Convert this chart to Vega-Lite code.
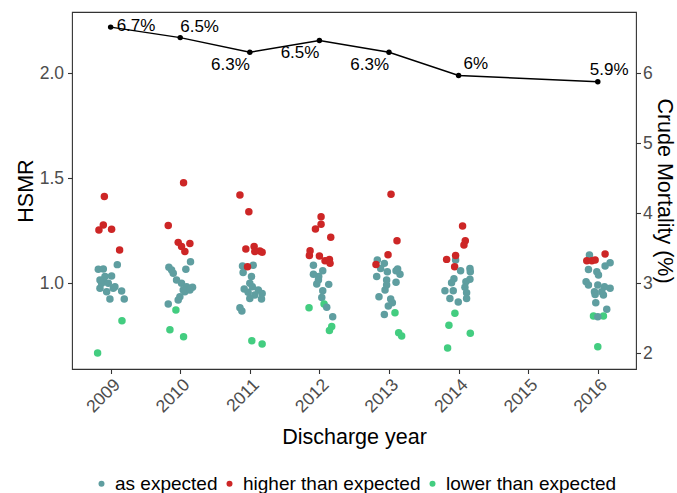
{
  "$schema": "https://vega.github.io/schema/vega-lite/v6.json",
  "width": 564,
  "height": 357,
  "autosize": {"type": "none"},
  "padding": {"left": 72, "top": 12, "right": 41, "bottom": 124},
  "background": "white",
  "config": {
    "font": "Liberation Sans",
    "view": {"stroke": "#333333", "strokeWidth": 1.1},
    "axis": {
      "grid": false,
      "domain": false,
      "tickColor": "#333333",
      "tickSize": 4.5,
      "tickWidth": 1.1,
      "labelColor": "#4D4D4D",
      "labelFontSize": 17.5,
      "labelFont": "Liberation Sans",
      "titleFont": "Liberation Sans",
      "titleFontSize": 21.5,
      "titleFontWeight": "normal",
      "titleColor": "#000000"
    }
  },
  "datasets": {
    "pts": [
      {"x": 2008.910, "hsmr": 1.413, "status": "higher than expected"},
      {"x": 2008.895, "hsmr": 1.278, "status": "higher than expected"},
      {"x": 2008.832, "hsmr": 1.254, "status": "higher than expected"},
      {"x": 2009.014, "hsmr": 1.257, "status": "higher than expected"},
      {"x": 2009.129, "hsmr": 1.159, "status": "higher than expected"},
      {"x": 2008.823, "hsmr": 1.067, "status": "as expected"},
      {"x": 2008.895, "hsmr": 1.068, "status": "as expected"},
      {"x": 2009.096, "hsmr": 1.089, "status": "as expected"},
      {"x": 2009.014, "hsmr": 1.035, "status": "as expected"},
      {"x": 2008.895, "hsmr": 1.016, "status": "as expected"},
      {"x": 2008.847, "hsmr": 0.976, "status": "as expected"},
      {"x": 2008.943, "hsmr": 0.960, "status": "as expected"},
      {"x": 2009.038, "hsmr": 0.976, "status": "as expected"},
      {"x": 2009.158, "hsmr": 0.963, "status": "as expected"},
      {"x": 2008.990, "hsmr": 0.925, "status": "as expected"},
      {"x": 2009.196, "hsmr": 0.925, "status": "as expected"},
      {"x": 2008.871, "hsmr": 1.000, "status": "as expected"},
      {"x": 2008.967, "hsmr": 1.000, "status": "as expected"},
      {"x": 2009.062, "hsmr": 0.984, "status": "as expected"},
      {"x": 2008.919, "hsmr": 1.032, "status": "as expected"},
      {"x": 2008.847, "hsmr": 1.016, "status": "as expected"},
      {"x": 2009.163, "hsmr": 0.822, "status": "lower than expected"},
      {"x": 2008.813, "hsmr": 0.668, "status": "lower than expected"},

      {"x": 2010.048, "hsmr": 1.479, "status": "higher than expected"},
      {"x": 2009.828, "hsmr": 1.275, "status": "higher than expected"},
      {"x": 2009.971, "hsmr": 1.195, "status": "higher than expected"},
      {"x": 2010.139, "hsmr": 1.190, "status": "higher than expected"},
      {"x": 2010.019, "hsmr": 1.175, "status": "higher than expected"},
      {"x": 2010.067, "hsmr": 1.151, "status": "higher than expected"},
      {"x": 2010.148, "hsmr": 1.103, "status": "as expected"},
      {"x": 2010.081, "hsmr": 1.067, "status": "as expected"},
      {"x": 2009.837, "hsmr": 1.076, "status": "as expected"},
      {"x": 2009.900, "hsmr": 1.048, "status": "as expected"},
      {"x": 2009.947, "hsmr": 1.016, "status": "as expected"},
      {"x": 2010.019, "hsmr": 1.000, "status": "as expected"},
      {"x": 2010.091, "hsmr": 0.984, "status": "as expected"},
      {"x": 2010.177, "hsmr": 0.981, "status": "as expected"},
      {"x": 2010.067, "hsmr": 0.960, "status": "as expected"},
      {"x": 2009.995, "hsmr": 0.936, "status": "as expected"},
      {"x": 2009.971, "hsmr": 0.921, "status": "as expected"},
      {"x": 2009.828, "hsmr": 0.902, "status": "as expected"},
      {"x": 2009.876, "hsmr": 1.063, "status": "as expected"},
      {"x": 2010.043, "hsmr": 0.968, "status": "as expected"},
      {"x": 2010.139, "hsmr": 0.968, "status": "as expected"},
      {"x": 2009.938, "hsmr": 0.873, "status": "lower than expected"},
      {"x": 2009.852, "hsmr": 0.779, "status": "lower than expected"},
      {"x": 2010.048, "hsmr": 0.746, "status": "lower than expected"},

      {"x": 2010.858, "hsmr": 1.421, "status": "higher than expected"},
      {"x": 2010.986, "hsmr": 1.341, "status": "higher than expected"},
      {"x": 2010.943, "hsmr": 1.163, "status": "higher than expected"},
      {"x": 2011.062, "hsmr": 1.175, "status": "higher than expected"},
      {"x": 2011.144, "hsmr": 1.154, "status": "higher than expected"},
      {"x": 2011.177, "hsmr": 1.148, "status": "higher than expected"},
      {"x": 2011.072, "hsmr": 1.151, "status": "higher than expected"},
      {"x": 2010.895, "hsmr": 1.082, "status": "as expected"},
      {"x": 2011.048, "hsmr": 1.086, "status": "as expected"},
      {"x": 2010.904, "hsmr": 1.051, "status": "as expected"},
      {"x": 2011.024, "hsmr": 1.032, "status": "as expected"},
      {"x": 2011.000, "hsmr": 1.000, "status": "as expected"},
      {"x": 2011.038, "hsmr": 0.984, "status": "as expected"},
      {"x": 2010.919, "hsmr": 0.973, "status": "as expected"},
      {"x": 2011.122, "hsmr": 0.968, "status": "as expected"},
      {"x": 2011.177, "hsmr": 0.952, "status": "as expected"},
      {"x": 2011.072, "hsmr": 0.944, "status": "as expected"},
      {"x": 2011.000, "hsmr": 0.928, "status": "as expected"},
      {"x": 2011.168, "hsmr": 0.925, "status": "as expected"},
      {"x": 2010.858, "hsmr": 0.884, "status": "as expected"},
      {"x": 2010.886, "hsmr": 0.868, "status": "as expected"},
      {"x": 2010.976, "hsmr": 0.957, "status": "as expected"},
      {"x": 2010.967, "hsmr": 1.079, "status": "higher than expected"},
      {"x": 2011.029, "hsmr": 0.727, "status": "lower than expected"},
      {"x": 2011.177, "hsmr": 0.711, "status": "lower than expected"},

      {"x": 2012.024, "hsmr": 1.317, "status": "higher than expected"},
      {"x": 2012.024, "hsmr": 1.281, "status": "higher than expected"},
      {"x": 2011.943, "hsmr": 1.259, "status": "higher than expected"},
      {"x": 2012.163, "hsmr": 1.219, "status": "higher than expected"},
      {"x": 2011.866, "hsmr": 1.155, "status": "higher than expected"},
      {"x": 2011.856, "hsmr": 1.133, "status": "higher than expected"},
      {"x": 2012.000, "hsmr": 1.130, "status": "higher than expected"},
      {"x": 2012.081, "hsmr": 1.108, "status": "higher than expected"},
      {"x": 2012.144, "hsmr": 1.114, "status": "higher than expected"},
      {"x": 2012.153, "hsmr": 1.095, "status": "higher than expected"},
      {"x": 2011.914, "hsmr": 1.086, "status": "as expected"},
      {"x": 2012.048, "hsmr": 1.060, "status": "as expected"},
      {"x": 2011.914, "hsmr": 1.043, "status": "as expected"},
      {"x": 2011.990, "hsmr": 1.032, "status": "as expected"},
      {"x": 2011.962, "hsmr": 0.997, "status": "as expected"},
      {"x": 2012.134, "hsmr": 0.995, "status": "as expected"},
      {"x": 2012.048, "hsmr": 0.965, "status": "as expected"},
      {"x": 2012.034, "hsmr": 0.933, "status": "as expected"},
      {"x": 2011.986, "hsmr": 1.016, "status": "as expected"},
      {"x": 2011.851, "hsmr": 0.884, "status": "lower than expected"},
      {"x": 2012.067, "hsmr": 0.902, "status": "lower than expected"},
      {"x": 2012.105, "hsmr": 0.886, "status": "as expected"},
      {"x": 2012.191, "hsmr": 0.841, "status": "as expected"},
      {"x": 2012.177, "hsmr": 0.794, "status": "lower than expected"},
      {"x": 2012.144, "hsmr": 0.775, "status": "lower than expected"},

      {"x": 2013.029, "hsmr": 1.424, "status": "higher than expected"},
      {"x": 2013.115, "hsmr": 1.203, "status": "higher than expected"},
      {"x": 2012.832, "hsmr": 1.111, "status": "as expected"},
      {"x": 2012.933, "hsmr": 1.095, "status": "as expected"},
      {"x": 2012.880, "hsmr": 1.071, "status": "as expected"},
      {"x": 2012.976, "hsmr": 1.055, "status": "as expected"},
      {"x": 2013.124, "hsmr": 1.068, "status": "as expected"},
      {"x": 2013.158, "hsmr": 1.043, "status": "as expected"},
      {"x": 2012.823, "hsmr": 1.032, "status": "as expected"},
      {"x": 2012.966, "hsmr": 1.016, "status": "as expected"},
      {"x": 2013.101, "hsmr": 1.005, "status": "as expected"},
      {"x": 2012.943, "hsmr": 0.968, "status": "as expected"},
      {"x": 2012.856, "hsmr": 0.936, "status": "as expected"},
      {"x": 2013.024, "hsmr": 0.925, "status": "as expected"},
      {"x": 2012.990, "hsmr": 0.892, "status": "as expected"},
      {"x": 2013.048, "hsmr": 0.908, "status": "as expected"},
      {"x": 2012.933, "hsmr": 0.852, "status": "as expected"},
      {"x": 2013.101, "hsmr": 1.060, "status": "as expected"},
      {"x": 2012.966, "hsmr": 0.992, "status": "as expected"},
      {"x": 2012.986, "hsmr": 1.136, "status": "higher than expected"},
      {"x": 2012.813, "hsmr": 1.090, "status": "higher than expected"},
      {"x": 2013.086, "hsmr": 0.860, "status": "lower than expected"},
      {"x": 2013.139, "hsmr": 0.765, "status": "lower than expected"},
      {"x": 2013.182, "hsmr": 0.749, "status": "lower than expected"},

      {"x": 2014.057, "hsmr": 1.273, "status": "higher than expected"},
      {"x": 2014.096, "hsmr": 1.203, "status": "higher than expected"},
      {"x": 2014.077, "hsmr": 1.182, "status": "higher than expected"},
      {"x": 2013.957, "hsmr": 1.111, "status": "as expected"},
      {"x": 2013.957, "hsmr": 1.132, "status": "higher than expected"},
      {"x": 2013.828, "hsmr": 1.114, "status": "higher than expected"},
      {"x": 2013.943, "hsmr": 1.079, "status": "higher than expected"},
      {"x": 2014.029, "hsmr": 1.060, "status": "as expected"},
      {"x": 2014.163, "hsmr": 1.071, "status": "as expected"},
      {"x": 2014.168, "hsmr": 1.055, "status": "as expected"},
      {"x": 2013.933, "hsmr": 1.022, "status": "as expected"},
      {"x": 2013.899, "hsmr": 1.003, "status": "as expected"},
      {"x": 2014.163, "hsmr": 1.019, "status": "as expected"},
      {"x": 2014.105, "hsmr": 1.008, "status": "as expected"},
      {"x": 2014.091, "hsmr": 0.981, "status": "as expected"},
      {"x": 2013.804, "hsmr": 0.965, "status": "as expected"},
      {"x": 2013.923, "hsmr": 0.965, "status": "as expected"},
      {"x": 2014.115, "hsmr": 0.955, "status": "as expected"},
      {"x": 2013.875, "hsmr": 0.928, "status": "as expected"},
      {"x": 2013.995, "hsmr": 0.911, "status": "as expected"},
      {"x": 2014.115, "hsmr": 0.928, "status": "as expected"},
      {"x": 2013.947, "hsmr": 0.857, "status": "lower than expected"},
      {"x": 2013.861, "hsmr": 0.800, "status": "lower than expected"},
      {"x": 2014.168, "hsmr": 0.762, "status": "lower than expected"},
      {"x": 2013.842, "hsmr": 0.692, "status": "lower than expected"},

      {"x": 2015.880, "hsmr": 1.135, "status": "as expected"},
      {"x": 2016.105, "hsmr": 1.140, "status": "higher than expected"},
      {"x": 2015.842, "hsmr": 1.108, "status": "higher than expected"},
      {"x": 2015.914, "hsmr": 1.108, "status": "higher than expected"},
      {"x": 2015.962, "hsmr": 1.111, "status": "higher than expected"},
      {"x": 2016.177, "hsmr": 1.098, "status": "as expected"},
      {"x": 2016.105, "hsmr": 1.082, "status": "as expected"},
      {"x": 2015.866, "hsmr": 1.066, "status": "as expected"},
      {"x": 2015.986, "hsmr": 1.055, "status": "as expected"},
      {"x": 2016.010, "hsmr": 1.040, "status": "as expected"},
      {"x": 2015.832, "hsmr": 1.008, "status": "as expected"},
      {"x": 2015.866, "hsmr": 0.992, "status": "as expected"},
      {"x": 2016.000, "hsmr": 0.992, "status": "as expected"},
      {"x": 2016.096, "hsmr": 0.984, "status": "as expected"},
      {"x": 2016.177, "hsmr": 0.976, "status": "as expected"},
      {"x": 2015.962, "hsmr": 0.947, "status": "as expected"},
      {"x": 2016.081, "hsmr": 0.944, "status": "as expected"},
      {"x": 2015.952, "hsmr": 0.960, "status": "as expected"},
      {"x": 2016.057, "hsmr": 0.960, "status": "as expected"},
      {"x": 2015.971, "hsmr": 0.908, "status": "as expected"},
      {"x": 2016.129, "hsmr": 0.876, "status": "as expected"},
      {"x": 2015.938, "hsmr": 0.844, "status": "lower than expected"},
      {"x": 2016.081, "hsmr": 0.844, "status": "lower than expected"},
      {"x": 2016.000, "hsmr": 0.841, "status": "as expected"},
      {"x": 2016.000, "hsmr": 0.698, "status": "lower than expected"}
    ],
    "crude": [
      {"year": 2009, "crude": 6.66, "label": "6.7%"},
      {"year": 2010, "crude": 6.51, "label": "6.5%"},
      {"year": 2011, "crude": 6.30, "label": "6.3%"},
      {"year": 2012, "crude": 6.47, "label": "6.5%"},
      {"year": 2013, "crude": 6.30, "label": "6.3%"},
      {"year": 2014, "crude": 5.97, "label": "6%"},
      {"year": 2016, "crude": 5.88, "label": "5.9%"}
    ]
  },
  "layer": [
    {
      "data": {"name": "pts"},
      "mark": {"type": "circle", "size": 56, "opacity": 1},
      "encoding": {
        "x": {
          "field": "x",
          "type": "quantitative",
          "scale": {"domain": [2008.445, 2016.549], "nice": false, "zero": false},
          "axis": {
            "title": "Discharge year",
            "values": [2009, 2010, 2011, 2012, 2013, 2014, 2015, 2016],
            "format": "d",
            "labelAngle": -45,
            "labelAlign": "right",
            "labelBaseline": "top",
            "labelPadding": 2,
            "titleBaseline": "alphabetic",
            "titleY": 74
          }
        },
        "y": {
          "field": "hsmr",
          "type": "quantitative",
          "scale": {"domain": [0.592, 2.292], "nice": false, "zero": false},
          "axis": {
            "orient": "left",
            "title": "HSMR",
            "values": [1.0, 1.5, 2.0],
            "format": ".1f",
            "labelPadding": 4,
            "titleBaseline": "alphabetic",
            "titleX": -40
          }
        },
        "color": {
          "field": "status",
          "type": "nominal",
          "scale": {
            "domain": ["as expected", "higher than expected", "lower than expected"],
            "range": ["#5F9EA0", "#CD2626", "#43CD80"]
          },
          "legend": {
            "title": null,
            "orient": "none",
            "direction": "horizontal",
            "legendX": 20,
            "legendY": 462,
            "padding": 0,
            "labelFontSize": 19,
            "labelFont": "Liberation Sans",
            "labelColor": "#000000",
            "labelLimit": 400,
            "symbolType": "circle",
            "symbolSize": 36,
            "labelOffset": 4,
            "columnPadding": 2
          }
        }
      }
    },
    {
      "data": {"name": "crude"},
      "encoding": {
        "x": {"field": "year", "type": "quantitative"},
        "y": {
          "field": "crude",
          "type": "quantitative",
          "scale": {"domain": [1.776, 6.876], "nice": false, "zero": false},
          "axis": {
            "orient": "right",
            "title": "Crude Mortality (%)",
            "values": [2, 3, 4, 5, 6],
            "format": "d",
            "labelPadding": 2,
            "titleBaseline": "alphabetic",
            "titleX": 21.5
          }
        }
      },
      "layer": [
        {"mark": {"type": "line", "color": "#000000", "strokeWidth": 1.5}},
        {"mark": {"type": "point", "filled": true, "color": "#000000", "size": 30, "opacity": 1}},
        {
          "transform": [{"filter": "datum.year == 2009"}],
          "mark": {"type": "text", "align": "left", "baseline": "middle", "dx": 6, "dy": -1.5, "fontSize": 17, "font": "Liberation Sans", "color": "#000000"},
          "encoding": {"text": {"field": "label"}}
        },
        {
          "transform": [{"filter": "datum.year == 2010"}],
          "mark": {"type": "text", "align": "left", "baseline": "middle", "dx": 0, "dy": -11, "fontSize": 17, "font": "Liberation Sans", "color": "#000000"},
          "encoding": {"text": {"field": "label"}}
        },
        {
          "transform": [{"filter": "datum.year == 2014"}],
          "mark": {"type": "text", "align": "left", "baseline": "middle", "dx": 5, "dy": -11, "fontSize": 17, "font": "Liberation Sans", "color": "#000000"},
          "encoding": {"text": {"field": "label"}}
        },
        {
          "transform": [{"filter": "datum.year == 2016"}],
          "mark": {"type": "text", "align": "left", "baseline": "middle", "dx": -8, "dy": -11.5, "fontSize": 17, "font": "Liberation Sans", "color": "#000000"},
          "encoding": {"text": {"field": "label"}}
        },
        {
          "transform": [{"filter": "datum.year >= 2011 && datum.year <= 2013"}],
          "mark": {"type": "text", "align": "right", "baseline": "middle", "dx": 0, "dy": 13, "fontSize": 17, "font": "Liberation Sans", "color": "#000000"},
          "encoding": {"text": {"field": "label"}}
        }
      ]
    }
  ],
  "resolve": {"scale": {"y": "independent"}, "axis": {"y": "independent"}}
}
